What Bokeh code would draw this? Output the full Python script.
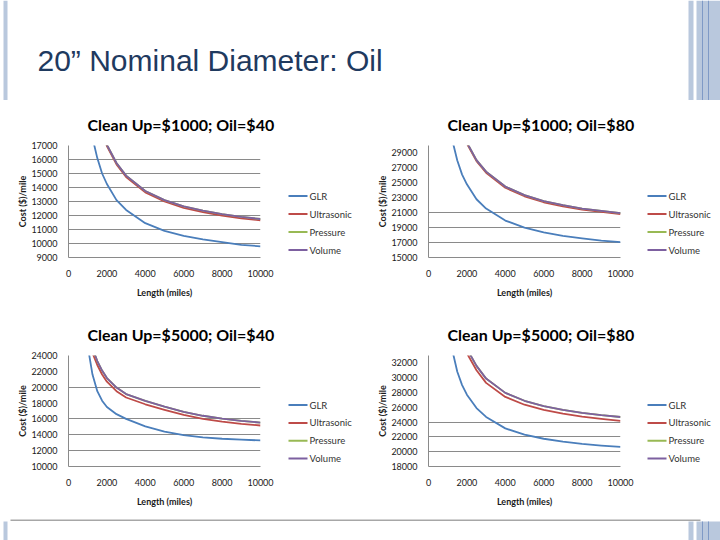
from bokeh.plotting import figure
from bokeh.models import Range1d, FixedTicker, Title
from bokeh.layouts import column, row
from bokeh.embed import file_html
from bokeh.resources import INLINE
from bokeh.core.properties import value

# ---------------- data ----------------
slide_title = "20\u201d Nominal Diameter: Oil"
series_names = ["GLR", "Ultrasonic", "Pressure", "Volume"]
series_colors = ["#4A7EBB", "#BE4B48", "#98B954", "#7D60A0"]

length_miles = [1000, 1250, 1500, 1750, 2000, 2500, 3000, 4000, 5000, 6000, 7000, 8000, 9000, 10000]
x_ticks = [0, 2000, 4000, 6000, 8000, 10000]

# Clean Up=$1000; Oil=$40
glr_1 = [19800, 17550, 16100, 15000, 14250, 13100, 12400, 11450, 10900, 10550, 10300, 10100, 9900, 9800]
ultrasonic_1 = [23500, 20950, 19150, 17900, 16950, 15650, 14750, 13650, 13000, 12550, 12250, 12000, 11800, 11650]
pressure_1 = [23600, 21050, 19250, 18000, 17050, 15750, 14850, 13750, 13100, 12650, 12350, 12100, 11900, 11750]
volume_1 = [23600, 21050, 19250, 18000, 17050, 15750, 14850, 13750, 13100, 12650, 12350, 12100, 11900, 11750]

# Clean Up=$1000; Oil=$80
glr_2 = [34400, 30600, 28000, 26100, 24800, 22800, 21550, 19950, 19000, 18350, 17900, 17550, 17250, 17050]
ultrasonic_2 = [42100, 37350, 34200, 31950, 30250, 27900, 26350, 24350, 23200, 22400, 21850, 21400, 21100, 20800]
pressure_2 = [42250, 37500, 34350, 32100, 30400, 28050, 26500, 24500, 23350, 22550, 22000, 21550, 21250, 20950]
volume_2 = [42250, 37500, 34350, 32100, 30400, 28050, 26500, 24500, 23350, 22550, 22000, 21550, 21250, 20950]

# Clean Up=$5000; Oil=$40
glr_3 = [25200, 21600, 19500, 18300, 17500, 16600, 16000, 15050, 14400, 13950, 13680, 13500, 13380, 13290]
ultrasonic_3 = [27000, 24300, 22800, 21600, 20700, 19500, 18700, 17850, 17150, 16500, 16000, 15650, 15380, 15170]
pressure_3 = [27500, 24900, 23300, 22100, 21150, 19950, 19130, 18280, 17560, 16900, 16400, 16040, 15760, 15540]
volume_3 = [27500, 24900, 23300, 22100, 21150, 19950, 19130, 18280, 17560, 16900, 16400, 16040, 15760, 15540]

# Clean Up=$5000; Oil=$80
glr_4 = [37000, 33600, 30800, 29000, 27700, 25900, 24700, 23150, 22300, 21750, 21350, 21050, 20830, 20640]
ultrasonic_4 = [44000, 40000, 37000, 34800, 33300, 31000, 29300, 27400, 26350, 25650, 25150, 24750, 24430, 24160]
pressure_4 = [44600, 40600, 37600, 35400, 33900, 31600, 29880, 27950, 26880, 26160, 25650, 25240, 24930, 24690]
volume_4 = [44600, 40600, 37600, 35400, 33900, 31600, 29880, 27950, 26880, 26160, 25650, 25240, 24930, 24690]

chart_titles = ["Clean Up=$1000; Oil=$40", "Clean Up=$1000; Oil=$80",
                "Clean Up=$5000; Oil=$40", "Clean Up=$5000; Oil=$80"]
y_limits = [(9000, 17000), (15000, 30000), (10000, 24000), (18000, 33000)]
y_ticks = [list(range(9000, 17001, 1000)), list(range(15000, 29001, 2000)),
           list(range(10000, 24001, 2000)), list(range(18000, 32001, 2000))]
grid_lines = [list(range(10000, 16001, 1000)), [17000, 19000, 21000],
              [12000, 14000, 16000, 20000], [20000, 22000, 24000]]

# ---------------- styling ----------------
FONT = "Lato"
GRID = "#8a8a8a"
FW, FH = 192, 112
LEFT, RIGHT = 68, 20
LEG_W = 80


def make_chart(i, series, height, top):
    y0, y1 = y_limits[i]
    p = figure(width=LEFT + FW + RIGHT, height=height,
               x_range=Range1d(0, 10000), y_range=Range1d(y0, y1),
               output_backend="svg", toolbar_location=None,
               min_border_left=LEFT, min_border_right=RIGHT,
               min_border_top=top, min_border_bottom=height - top - FH)
    p.outline_line_color = None
    p.background_fill_color = "white"
    p.border_fill_color = "white"

    p.xgrid.visible = False
    p.ygrid.ticker = FixedTicker(ticks=grid_lines[i])
    p.ygrid.grid_line_color = GRID
    p.ygrid.grid_line_width = 1

    p.xaxis.ticker = FixedTicker(ticks=x_ticks)
    p.yaxis.ticker = FixedTicker(ticks=y_ticks[i])
    for ax in (p.xaxis[0], p.yaxis[0]):
        ax.axis_line_color = GRID
        ax.axis_line_width = 1
        ax.major_tick_line_color = None
        ax.minor_tick_line_color = None
        ax.major_tick_out = 0
        ax.major_tick_in = 0
        ax.minor_tick_out = 0
        ax.minor_tick_in = 0
        ax.major_label_text_font = FONT
        ax.major_label_text_font_size = "9px"
        ax.major_label_text_color = "#1a1a1a"
        ax.axis_label_text_font = FONT
        ax.axis_label_text_font_size = "9px"
        ax.axis_label_text_font_style = "bold"
        ax.axis_label_text_color = "#1a1a1a"
    p.xaxis.axis_label = "Length (miles)"
    p.yaxis.axis_label = "Cost ($)/mile"
    p.xaxis.major_label_standoff = 12
    p.xaxis.axis_label_standoff = 7
    p.yaxis.major_label_standoff = 11
    p.yaxis.axis_label_standoff = 0

    for color, vals in zip(series_colors, series):
        p.line(length_miles, vals, line_color=color, line_width=1.8,
               line_join="round")

    p.title = Title(text=chart_titles[i], align="left", offset=19,
                    standoff=24, text_font=FONT, text_font_size="16px",
                    text_font_style="bold", text_color="#000000")
    return p


def make_legend(height, top, glyph_x, first_row):
    # frame-relative pixel coordinates (frame aligned with the chart beside it)
    f = figure(width=LEG_W, height=height, x_range=Range1d(0, LEG_W),
               y_range=Range1d(FH, 0), output_backend="svg",
               toolbar_location=None, min_border_left=0, min_border_right=0,
               min_border_top=top, min_border_bottom=height - top - FH,
               x_axis_location=None, y_axis_location=None)
    f.grid.visible = False
    f.outline_line_color = None
    rows = [first_row + 18 * k for k in range(len(series_names))]
    f.segment(x0=[glyph_x] * 4, y0=rows, x1=[glyph_x + 19] * 4, y1=rows,
              line_color=series_colors, line_width=2)
    f.text(x=[glyph_x + 21] * 4, y=rows, text=series_names,
           text_font=value(FONT), text_font_size="9.5px",
           text_color="#333333", text_baseline="middle", text_align="left")
    return f


c1 = make_chart(0, [glr_1, ultrasonic_1, pressure_1, volume_1], 210, 45)
c2 = make_chart(1, [glr_2, ultrasonic_2, pressure_2, volume_2], 210, 45)
c3 = make_chart(2, [glr_3, ultrasonic_3, pressure_3, volume_3], 209, 44)
c4 = make_chart(3, [glr_4, ultrasonic_4, pressure_4, volume_4], 209, 44)
l1 = make_legend(210, 45, 8, 50.5)
l2 = make_legend(210, 45, 7, 50.5)
l3 = make_legend(209, 44, 8, 50)
l4 = make_legend(209, 44, 7, 50)

# ---------------- slide header / footer ----------------
BAR = "#B9C8DD"
BAR_DARK = "#7F9AC6"


def blank(h, y_top, y_bottom):
    f = figure(width=720, height=h, x_range=Range1d(0, 720),
               y_range=Range1d(y_bottom, y_top), output_backend="svg",
               toolbar_location=None, min_border=0,
               x_axis_location=None, y_axis_location=None)
    f.grid.visible = False
    f.outline_line_color = None
    return f


head = blank(100, 0, 100)
head.quad(left=[3, 688, 696], right=[7, 693, 720], top=[0, 0, 0],
          bottom=[101, 101, 101], fill_color=BAR, line_color=None)
head.segment(x0=[702, 708], y0=[0, 0], x1=[702, 708], y1=[101, 101],
             line_color=BAR_DARK, line_width=1)
head.text(x=[37], y=[60], text=[slide_title], text_font=value("Liberation Sans"),
          text_font_size="30px", text_color="#1F3A5F",
          text_baseline="middle", text_align="left")

foot = blank(21, 519, 540)
foot.segment(x0=[10], y0=[519.5], x1=[700], y1=[519.5], line_color="#8a8a8a",
             line_width=1.5)
foot.quad(left=[3, 688, 696], right=[7, 693, 720], top=[521, 521, 521],
          bottom=[541, 541, 541], fill_color=BAR, line_color=None)
foot.segment(x0=[702, 708], y0=[521, 521], x1=[702, 708], y1=[541, 541],
             line_color=BAR_DARK, line_width=1)

layout = column(head, row(c1, l1, c2, l2), row(c3, l3, c4, l4), foot)

open("out.html", "w").write(file_html(layout, INLINE))
